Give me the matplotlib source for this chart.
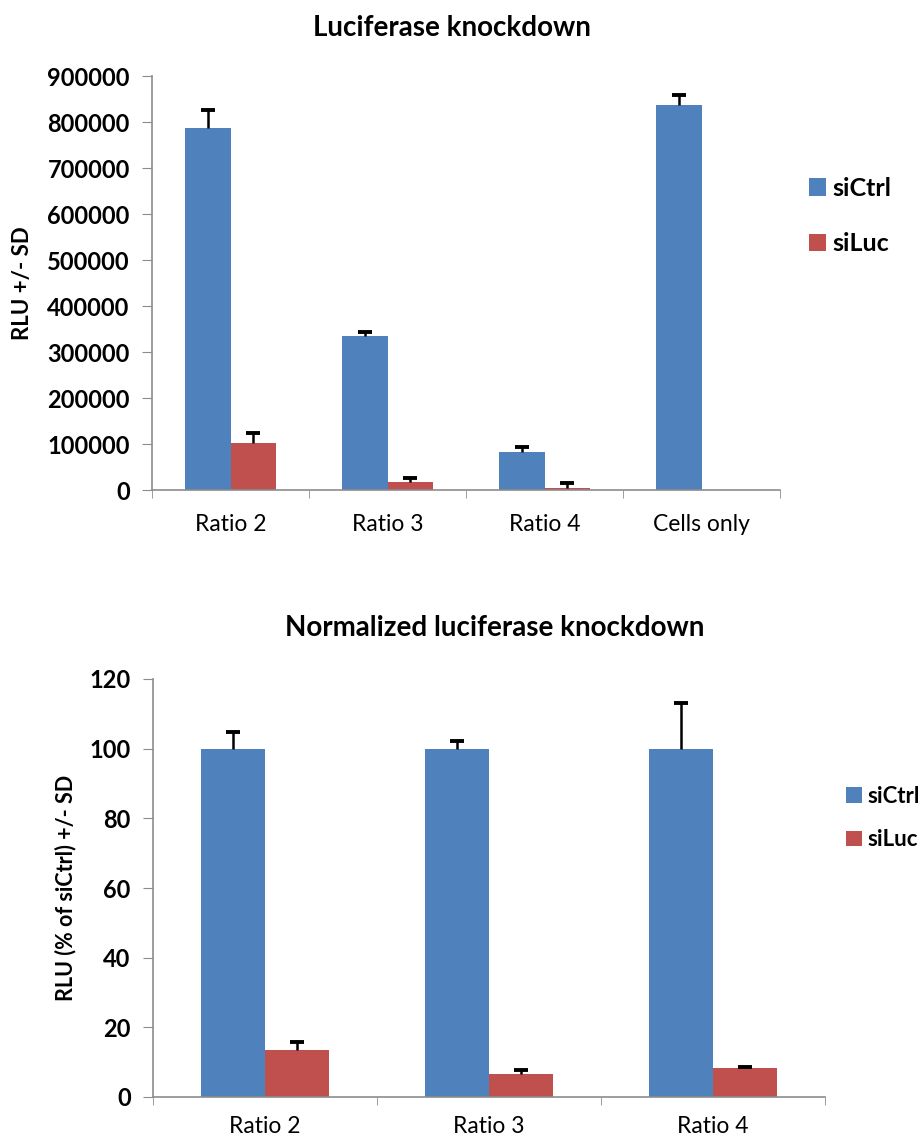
import numpy as np
import matplotlib
matplotlib.use("Agg")
import matplotlib.pyplot as plt
from matplotlib.patches import Patch

plt.rcParams['font.family'] = ['Lato', 'DejaVu Sans']

# ---- data: top chart ----
top_categories = ["Ratio 2", "Ratio 3", "Ratio 4", "Cells only"]
top_siCtrl = [787000, 335000, 83000, 838000]
top_siCtrl_sd = [39000, 8000, 11000, 21000]
top_siLuc = [102000, 18000, 5000, None]
top_siLuc_sd = [22000, 8000, 10000, None]
top_yticks = [0, 100000, 200000, 300000, 400000, 500000, 600000, 700000, 800000, 900000]

# ---- data: bottom chart ----
bot_categories = ["Ratio 2", "Ratio 3", "Ratio 4"]
bot_siCtrl = [100, 100, 100]
bot_siCtrl_sd = [4.8, 2.2, 13.1]
bot_siLuc = [13.5, 6.5, 8.2]
bot_siLuc_sd = [2.4, 1.2, 0.5]
bot_yticks = [0, 20, 40, 60, 80, 100, 120]

series_names = ["siCtrl", "siLuc"]
BLUE = "#4F81BD"
RED = "#C0504D"
SPINE = "#8c8c8c"

fig = plt.figure(figsize=(9.18, 11.42), dpi=100)


def draw(ax, cats, v1, e1, v2, e2, yticks, ylabel, title, title_xy, xpad, ylabel_fs):
    n = len(cats)
    w = 0.287
    centers = np.arange(n) + 0.5
    for vals, errs, off, col in ((v1, e1, -w / 2, BLUE), (v2, e2, w / 2, RED)):
        xs = [c + off for c, v in zip(centers, vals) if v is not None]
        hs = [v for v in vals if v is not None]
        es = [e for v, e in zip(vals, errs) if v is not None]
        ax.bar(xs, hs, width=w, color=col, zorder=2)
        _, caps, _ = ax.errorbar(xs, hs, yerr=[np.zeros(len(es)), es], fmt='none',
                                 ecolor='black', elinewidth=1.8, capsize=5, capthick=2.8,
                                 zorder=3)
        caps[0].set_visible(False)
    ax.set_xlim(0, n)
    ax.set_ylim(yticks[0], yticks[-1])
    ax.set_yticks(yticks)
    ax.set_yticklabels([str(t) for t in yticks], fontsize=17, fontweight='bold')
    ax.set_xticks(centers)
    ax.set_xticklabels(cats, fontsize=16.5)
    ax.set_xticks(np.arange(n + 1), minor=True)
    ax.tick_params(axis='x', which='major', length=0, pad=xpad)
    ax.tick_params(axis='x', which='minor', length=6, color=SPINE, direction='out')
    ax.tick_params(axis='y', length=7, color=SPINE, direction='out', pad=9)
    for s in ('top', 'right'):
        ax.spines[s].set_visible(False)
    for s in ('left', 'bottom'):
        ax.spines[s].set_color(SPINE)
        ax.spines[s].set_linewidth(1.2)
    ax.set_ylabel(ylabel, fontsize=ylabel_fs, fontweight='bold')
    fig.text(title_xy[0], title_xy[1], title, fontsize=20, fontweight='bold',
             ha='center', va='center')


ax1 = fig.add_axes([152 / 918, 1 - 490 / 1142, 628 / 918, 414 / 1142])
draw(ax1, top_categories, top_siCtrl, top_siCtrl_sd, top_siLuc, top_siLuc_sd,
     top_yticks, "RLU +/- SD", "Luciferase knockdown", (452 / 918, 1 - 28 / 1142), 17, 16)
ax1.yaxis.set_label_coords(-119 / 628, 0.5)

ax2 = fig.add_axes([153 / 918, 1 - 1097 / 1142, 672 / 918, 418 / 1142])
draw(ax2, bot_categories, bot_siCtrl, bot_siCtrl_sd, bot_siLuc, bot_siLuc_sd,
     bot_yticks, "RLU (% of siCtrl) +/- SD", "Normalized luciferase knockdown",
     (495 / 918, 1 - 628 / 1142), 14, 15.5)
ax2.yaxis.set_label_coords(-77 / 672, 0.5)

handles = [Patch(facecolor=BLUE), Patch(facecolor=RED)]
fig.legend(handles, series_names, loc='center left', bbox_to_anchor=(786 / 918, 1 - 216 / 1142),
           frameon=False, handlelength=0.7, handleheight=0.7, handletextpad=0.25,
           labelspacing=1.3, prop={'size': 18, 'weight': 'bold'})
fig.legend(handles, series_names, loc='center left', bbox_to_anchor=(826 / 918, 1 - 818 / 1142),
           frameon=False, handlelength=0.7, handleheight=0.7, handletextpad=0.25,
           labelspacing=1.0, prop={'size': 16, 'weight': 'bold'})

fig.savefig("out.png", dpi=100, facecolor='white')
